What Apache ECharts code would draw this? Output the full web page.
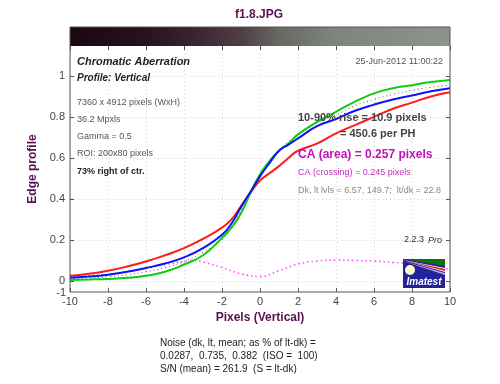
<!DOCTYPE html>
<html><head><meta charset="utf-8">
<script src="https://cdn.jsdelivr.net/npm/echarts@6/dist/echarts.min.js"></script>
<style>html,body{margin:0;padding:0;background:#fff}#c{width:500px;height:384px}</style>
</head><body><div id="c"></div>
<script>
var xs      = [-10,-9,-8,-7,-6,-5,-4,-3,-2,-1.5,-1,-0.5,0,0.5,1,1.5,2,3,4,5,6,7,8,9,10];
var green   = [0.005,0.007,0.01,0.015,0.025,0.045,0.08,0.125,0.21,0.26,0.33,0.43,0.52,0.585,0.635,0.67,0.715,0.775,0.825,0.875,0.915,0.94,0.955,0.97,0.98];
var blue    = [0.015,0.022,0.03,0.045,0.063,0.085,0.115,0.16,0.225,0.28,0.36,0.435,0.51,0.575,0.635,0.665,0.695,0.755,0.79,0.83,0.86,0.885,0.905,0.925,0.94];
var red     = [0.025,0.035,0.05,0.07,0.095,0.125,0.16,0.205,0.26,0.3,0.365,0.43,0.49,0.525,0.56,0.6,0.635,0.67,0.72,0.76,0.8,0.84,0.87,0.9,0.92];
var lum     = [0.01,0.014,0.02,0.03,0.045,0.065,0.095,0.14,0.2,0.26,0.34,0.43,0.51,0.58,0.64,0.68,0.71,0.77,0.81,0.855,0.885,0.91,0.93,0.945,0.955];
var caX     = [-10,-9,-8,-7,-6,-5,-4,-3.5,-3,-2,-1,0,1,2,3,4,5,6,7,8,9,10];
var caDiff  = [0.02,0.025,0.032,0.045,0.06,0.08,0.095,0.1,0.092,0.065,0.035,0.022,0.05,0.082,0.097,0.101,0.1,0.097,0.09,0.085,0.075,0.055];
var yTicks  = [0,0.2,0.4,0.6,0.8,1];
var yTickLabels = ['0','0.2','0.4','0.6','0.8','1'];

function pairs(x, y){ return x.map(function(v,i){ return [v, y[i]]; }); }

var chart = echarts.init(document.getElementById('c'), null, {renderer:'canvas'});
var axisCol = '#555';
var lblStyle = {color:'#444', fontFamily:'Liberation Sans, Arial', fontSize:11};
var gridLine = {show:true, lineStyle:{color:'#d0d0d0', type:[1,3], width:1}};

function txt(x,y,text,font,fill,align){
  return {type:'text', x:x, y:y, z:50, style:{text:text, font:font, fill:fill, align:align||'left', verticalAlign:'middle'}};
}

var graphics = [
  {type:'rect', shape:{x:70,y:27,width:380,height:19}, z:40,
   style:{fill:new echarts.graphic.LinearGradient(0,0,1,0,[
     {offset:0,color:'#1a0812'},{offset:0.2,color:'#261220'},{offset:0.32,color:'#3a2232'},
     {offset:0.45,color:'#4e3e44'},{offset:0.55,color:'#686864'},{offset:0.7,color:'#7c867e'},{offset:1,color:'#8c948b'}])}},
  {type:'rect', shape:{x:70,y:27,width:380,height:265}, z:41, style:{fill:null, stroke:axisCol, lineWidth:1}},
  txt(259,15,'f1.8.JPG','bold 12px Liberation Sans, Arial','#5a1050','center'),
  txt(77,62,'Chromatic Aberration','italic bold 11px Liberation Sans, Arial','#222'),
  txt(77,78,'Profile: Vertical','italic bold 10px Liberation Sans, Arial','#222'),
  txt(77,103,'7360 x 4912 pixels (WxH)','9px Liberation Sans, Arial','#555'),
  txt(77,120,'36.2 Mpxls','9px Liberation Sans, Arial','#555'),
  txt(77,137,'Gamma = 0.5','9px Liberation Sans, Arial','#555'),
  txt(77,154,'ROI: 200x80 pixels','9px Liberation Sans, Arial','#555'),
  txt(77,172,'73% right of ctr.','bold 9px Liberation Sans, Arial','#222'),
  txt(443,62,'25-Jun-2012 11:00:22','9px Liberation Sans, Arial','#555','right'),
  txt(298,118,'10-90% rise = 10.9 pixels','bold 11px Liberation Sans, Arial','#444'),
  txt(340,134,'= 450.6 per PH','bold 11px Liberation Sans, Arial','#444'),
  txt(298,155,'CA (area) = 0.257 pixels','bold 12px Liberation Sans, Arial','#c010c0'),
  txt(298,173,'CA (crossing) = 0.245 pixels','9px Liberation Sans, Arial','#c030c0'),
  txt(298,191,'Dk, lt lvls = 6.57, 149.7;  lt/dk = 22.8','9px Liberation Sans, Arial','#888'),
  txt(424,240,'2.2.3','9px Liberation Sans, Arial','#333','right'),
  txt(442,240,'Pro','italic 9px Liberation Sans, Arial','#333','right'),
  txt(66,293,'-1','11px Liberation Sans, Arial','#444','right'),
  txt(160,343,'Noise (dk, lt, mean; as % of lt-dk) =','10px Liberation Sans, Arial','#222'),
  txt(160,356,'0.0287,  0.735,  0.382  (ISO =  100)','10px Liberation Sans, Arial','#222'),
  txt(160,369,'S/N (mean) = 261.9  (S = lt-dk)','10px Liberation Sans, Arial','#222'),
  // Imatest logo
  {type:'rect', shape:{x:403,y:259,width:42,height:29}, z:45, style:{fill:'#22229a'}},
  {type:'polygon', shape:{points:[[403,259],[445,259],[445,266]]}, z:46, style:{fill:'#107010'}},
  {type:'polygon', shape:{points:[[403,260],[445,268],[445,272]]}, z:46, style:{fill:'#ffffff'}},
  {type:'polygon', shape:{points:[[403,260],[445,269],[445,271]]}, z:47, style:{fill:'#d02020'}},
  {type:'polygon', shape:{points:[[403,261],[445,273],[445,275]]}, z:46, style:{fill:'#c8a0e0'}},
  {type:'circle', shape:{cx:410,cy:270,r:5}, z:47, style:{fill:'#ffffc8'}},
  txt(424,282,'Imatest','italic bold 10px Liberation Sans, Arial','#ffffff','center')
];

chart.setOption({
  animation:false,
  grid:{left:70, right:50, top:46, bottom:92, containLabel:false},
  xAxis:[{
    type:'value', min:-10, max:10, interval:2,
    name:'Pixels (Vertical)', nameLocation:'middle', nameGap:18,
    nameTextStyle:{color:'#5a1050', fontWeight:'bold', fontSize:12, fontFamily:'Liberation Sans, Arial'},
    axisLine:{show:false, onZero:false}, axisTick:{show:true, inside:true, length:4, lineStyle:{color:axisCol}},
    axisLabel:Object.assign({margin:4}, lblStyle), splitLine:gridLine
  },{
    type:'value', min:-10, max:10, interval:2, position:'top',
    axisLine:{show:false, onZero:false}, axisTick:{show:true, inside:true, length:4, lineStyle:{color:axisCol}},
    axisLabel:{show:false}, splitLine:{show:false}
  }],
  yAxis:[{
    type:'value', min:-0.054, max:1.146,
    name:'Edge profile', nameLocation:'middle', nameGap:27, nameRotate:90,
    nameTextStyle:{color:'#5a1050', fontWeight:'bold', fontSize:12, fontFamily:'Liberation Sans, Arial'},
    axisLine:{show:false, onZero:false},
    axisTick:{show:true, inside:true, length:4, lineStyle:{color:axisCol}, customValues:yTicks},
    axisLabel:Object.assign({margin:5, customValues:yTicks, formatter:function(v){ var i=yTicks.indexOf(Math.round(v*10)/10); return i>=0?yTickLabels[i]:''; }}, lblStyle),
    splitLine:gridLine
  },{
    type:'value', min:-0.054, max:1.146, position:'right',
    axisLine:{show:false, onZero:false},
    axisTick:{show:true, inside:true, length:4, lineStyle:{color:axisCol}, customValues:yTicks},
    axisLabel:{show:false, customValues:yTicks}, splitLine:{show:false}
  }],
  graphic: graphics,
  series:[
    {type:'line', name:'caDiff', data:pairs(caX,caDiff), smooth:true, symbol:'none', lineStyle:{color:'#ff40ff', width:1.5, type:[1.5,3]}, z:2},
    {type:'line', name:'lum', data:pairs(xs,lum), smooth:true, symbol:'none', lineStyle:{color:'#555', width:1, type:[1,3]}, z:3},
    {type:'line', name:'red', data:pairs(xs,red), smooth:true, symbol:'none', lineStyle:{color:'#ff1a1a', width:2}, z:4},
    {type:'line', name:'green', data:pairs(xs,green), smooth:true, symbol:'none', lineStyle:{color:'#10cc10', width:2}, z:5},
    {type:'line', name:'blue', data:pairs(xs,blue), smooth:true, symbol:'none', lineStyle:{color:'#1010ff', width:2}, z:6}
  ]
});
</script></body></html>
